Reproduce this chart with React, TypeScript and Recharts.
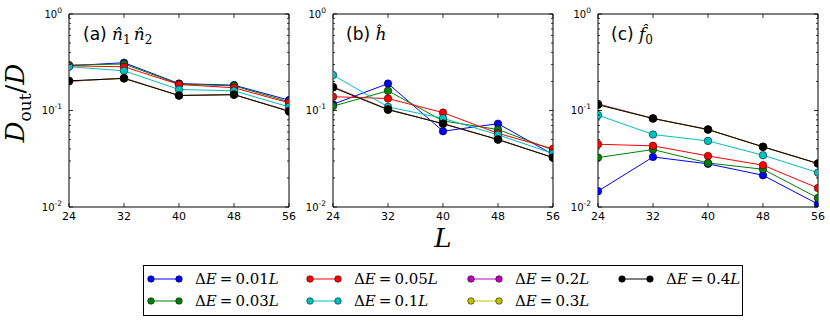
import React from 'react';
import { LineChart, Line, XAxis, YAxis } from 'recharts';

const L_VALUES = [24, 32, 40, 48, 56];
const X_TICKS = [24, 32, 40, 48, 56];
const Y_TICKS = [
  0.01, 0.02, 0.03, 0.04, 0.05, 0.06, 0.07, 0.08, 0.09,
  0.1, 0.2, 0.3, 0.4, 0.5, 0.6, 0.7, 0.8, 0.9, 1,
];
const MAJOR_Y = [0.01, 0.1, 1];

const SERIES_KEYS = ['s001', 's003', 's005', 's01', 's02', 's03', 's04'];
const SERIES_LABELS = ['0.01', '0.03', '0.05', '0.1', '0.2', '0.3', '0.4'];
const SERIES_COLORS = ['#0000ff', '#008000', '#ff0000', '#00bfbf', '#bf00bf', '#bfbf00', '#000000'];

// panel (a) n1 n2
const a_001 = [0.29, 0.313, 0.19, 0.183, 0.128];
const a_003 = [0.296, 0.303, 0.188, 0.18, 0.123];
const a_005 = [0.29, 0.284, 0.186, 0.172, 0.12];
const a_01 = [0.284, 0.258, 0.165, 0.16, 0.109];
const a_02 = [0.2, 0.217, 0.143, 0.146, 0.099];
const a_03 = [0.202, 0.215, 0.143, 0.146, 0.098];
const a_04 = [0.203, 0.215, 0.143, 0.146, 0.098];

// panel (b) h
const b_001 = [0.116, 0.19, 0.061, 0.073, 0.035];
const b_003 = [0.111, 0.16, 0.078, 0.0635, 0.039];
const b_005 = [0.139, 0.133, 0.095, 0.058, 0.04];
const b_01 = [0.233, 0.109, 0.083, 0.056, 0.0358];
const b_02 = [0.176, 0.103, 0.073, 0.05, 0.0326];
const b_03 = [0.174, 0.102, 0.073, 0.05, 0.0325];
const b_04 = [0.173, 0.102, 0.073, 0.05, 0.0325];

// panel (c) f0
const c_001 = [0.0146, 0.033, 0.028, 0.0213, 0.0107];
const c_003 = [0.0325, 0.0394, 0.0286, 0.0246, 0.0124];
const c_005 = [0.0447, 0.043, 0.0338, 0.0271, 0.0157];
const c_01 = [0.0895, 0.0564, 0.0484, 0.0344, 0.0227];
const c_02 = [0.117, 0.0828, 0.0636, 0.0421, 0.0283];
const c_03 = [0.115, 0.0826, 0.0635, 0.042, 0.0282];
const c_04 = [0.115, 0.0826, 0.0635, 0.042, 0.0282];

const buildRows = (series: number[][]) =>
  L_VALUES.map((L, i) => {
    const row: Record<string, number> = { L };
    SERIES_KEYS.forEach((k, j) => {
      row[k] = series[j][i];
    });
    return row;
  });

const rowsA = buildRows([a_001, a_003, a_005, a_01, a_02, a_03, a_04]);
const rowsB = buildRows([b_001, b_003, b_005, b_01, b_02, b_03, b_04]);
const rowsC = buildRows([c_001, c_003, c_005, c_01, c_02, c_03, c_04]);

const TICK_FONT = '"DejaVu Sans", sans-serif';
const MATH_FONT = '"DejaVu Serif", serif';

const isMajor = (v: number) => MAJOR_Y.some((m) => Math.abs(m - v) < 1e-9);

const LeftTick = (props: any) => {
  const { x, y, payload } = props;
  const v = payload.value;
  const major = isMajor(v);
  const exp = Math.round(Math.log10(v));
  return (
    <g>
      <line x1={x} x2={x + (major ? 4 : 2)} y1={y} y2={y} stroke="#000" strokeWidth={0.8} />
      {major && (
        <text x={x - 7} y={y + 3.5} textAnchor="end" fontFamily={TICK_FONT} fontSize={10} fill="#000">
          10
          <tspan dy={-5} fontSize={7.5}>
            {String(exp)}
          </tspan>
        </text>
      )}
    </g>
  );
};

const RightTick = (props: any) => {
  const { x, y, payload } = props;
  const major = isMajor(payload.value);
  return <line x1={x} x2={x - (major ? 4 : 2)} y1={y} y2={y} stroke="#000" strokeWidth={0.8} />;
};

const BottomTick = (props: any) => {
  const { x, y, payload } = props;
  return (
    <g>
      <line x1={x} x2={x} y1={y} y2={y - 4} stroke="#000" strokeWidth={0.8} />
      <text x={x} y={y + 12.5} textAnchor="middle" fontFamily={TICK_FONT} fontSize={11} fill="#000">
        {payload.value}
      </text>
    </g>
  );
};

const TopTick = (props: any) => {
  const { x, y } = props;
  return <line x1={x} x2={x} y1={y} y2={y + 4} stroke="#000" strokeWidth={0.8} />;
};

const CHART_W = 272;
const CHART_H = 240;
const LEFT_AXIS_W = 40;

const Panel = ({ rows, plotLeft }: { rows: any[]; plotLeft: number }) => (
  <div style={{ position: 'absolute', left: plotLeft - LEFT_AXIS_W, top: 0 }}>
    <LineChart width={CHART_W} height={CHART_H} data={rows} margin={{ top: 0, right: 0, bottom: 0, left: 0 }}>
      <XAxis
        xAxisId="bottom"
        dataKey="L"
        type="number"
        domain={[24, 56]}
        ticks={X_TICKS}
        interval={0}
        allowDataOverflow
        height={33}
        orientation="bottom"
        tickSize={0}
        tickMargin={0}
        tickLine={false}
        axisLine={{ stroke: '#000', strokeWidth: 1 }}
        tick={<BottomTick />}
      />
      <XAxis
        xAxisId="top"
        dataKey="L"
        type="number"
        domain={[24, 56]}
        ticks={X_TICKS}
        interval={0}
        allowDataOverflow
        height={14}
        orientation="top"
        tickSize={0}
        tickMargin={0}
        tickLine={false}
        axisLine={{ stroke: '#000', strokeWidth: 1 }}
        tick={<TopTick />}
      />
      <YAxis
        yAxisId="left"
        scale="log"
        type="number"
        domain={[0.01, 1]}
        ticks={Y_TICKS}
        interval={0}
        allowDataOverflow
        width={LEFT_AXIS_W}
        orientation="left"
        tickSize={0}
        tickMargin={0}
        tickLine={false}
        axisLine={{ stroke: '#000', strokeWidth: 1 }}
        tick={<LeftTick />}
      />
      <YAxis
        yAxisId="right"
        scale="log"
        type="number"
        domain={[0.01, 1]}
        ticks={Y_TICKS}
        interval={0}
        allowDataOverflow
        width={12}
        orientation="right"
        tickSize={0}
        tickMargin={0}
        tickLine={false}
        axisLine={{ stroke: '#000', strokeWidth: 1 }}
        tick={<RightTick />}
      />
      {SERIES_KEYS.map((k, j) => (
        <Line
          key={k}
          xAxisId="bottom"
          yAxisId="left"
          type="linear"
          dataKey={k}
          stroke={SERIES_COLORS[j]}
          strokeWidth={1}
          dot={{ r: 3.8, fill: SERIES_COLORS[j], stroke: '#000', strokeWidth: 0.5 }}
          activeDot={false}
          isAnimationActive={false}
        />
      ))}
    </LineChart>
  </div>
);

const mathItalic: React.CSSProperties = { fontFamily: MATH_FONT, fontStyle: 'italic' };

const Title = ({ left, label, children }: { left: number; label: string; children: React.ReactNode }) => (
  <div
    style={{
      position: 'absolute',
      left,
      top: 25,
      fontSize: 17,
      lineHeight: '18px',
      whiteSpace: 'nowrap',
      fontFamily: TICK_FONT,
      color: '#000',
    }}
  >
    {label} {children}
  </div>
);

const LEGEND_COLUMNS = [
  { x: 151, items: [0, 1] },
  { x: 310, items: [2, 3] },
  { x: 471, items: [4, 5] },
  { x: 622, items: [6] },
];
const LEGEND_ROWS_Y = [279, 301];

const Legend = () => (
  <>
    <div
      style={{
        position: 'absolute',
        left: 143,
        top: 265,
        width: 600,
        height: 51,
        border: '1px solid #000',
        boxSizing: 'border-box',
      }}
    />
    {LEGEND_COLUMNS.map((col) =>
      col.items.map((idx, r) => (
        <div
          key={idx}
          style={{
            position: 'absolute',
            left: col.x - 4,
            top: LEGEND_ROWS_Y[r] - 10,
            height: 20,
            display: 'flex',
            alignItems: 'center',
            whiteSpace: 'nowrap',
          }}
        >
          <svg width={36} height={10} style={{ display: 'block' }}>
            <line x1={4} x2={32} y1={5} y2={5} stroke={SERIES_COLORS[idx]} strokeWidth={1} />
            <circle cx={4} cy={5} r={3.3} fill={SERIES_COLORS[idx]} stroke="#000" strokeWidth={0.5} />
            <circle cx={32} cy={5} r={3.3} fill={SERIES_COLORS[idx]} stroke="#000" strokeWidth={0.5} />
          </svg>
          <span style={{ marginLeft: 12, fontFamily: MATH_FONT, fontSize: 15, color: '#000' }}>
            Δ<i>E</i>
            <span style={{ margin: '0 3px' }}>=</span>
            {SERIES_LABELS[idx]}
            <i>L</i>
          </span>
        </div>
      ))
    )}
  </>
);

export default function App() {
  return (
    <div
      style={{
        position: 'absolute',
        left: 0,
        top: 0,
        width: 830,
        height: 325,
        background: '#fff',
        overflow: 'hidden',
      }}
    >
      <Panel rows={rowsA} plotLeft={69} />
      <Panel rows={rowsB} plotLeft={333} />
      <Panel rows={rowsC} plotLeft={597.5} />

      <Title left={83} label="(a)">
        <span style={mathItalic}>
          n̂<sub style={{ fontStyle: 'normal', fontSize: 12 }}>1</sub>
          <span style={{ marginLeft: 3 }}>n̂</span>
          <sub style={{ fontStyle: 'normal', fontSize: 12 }}>2</sub>
        </span>
      </Title>
      <Title left={346} label="(b)">
        <span style={mathItalic}>ĥ</span>
      </Title>
      <Title left={611} label="(c)">
        <span style={mathItalic}>
          f̂<sub style={{ fontStyle: 'normal', fontSize: 12 }}>0</sub>
        </span>
      </Title>

      <div
        style={{
          position: 'absolute',
          left: 18,
          top: 103,
          transform: 'translate(-50%, -50%) rotate(-90deg)',
          whiteSpace: 'nowrap',
          fontFamily: MATH_FONT,
          fontSize: 26,
          color: '#000',
          lineHeight: 1,
        }}
      >
        <i>D</i>
        <sub style={{ fontSize: 17, fontStyle: 'normal' }}>out</sub>/<i>D</i>
      </div>

      <div
        style={{
          position: 'absolute',
          left: 443,
          top: 238,
          transform: 'translate(-50%, -50%)',
          fontFamily: MATH_FONT,
          fontStyle: 'italic',
          fontSize: 26,
          color: '#000',
          lineHeight: 1,
        }}
      >
        L
      </div>

      <Legend />
    </div>
  );
}
